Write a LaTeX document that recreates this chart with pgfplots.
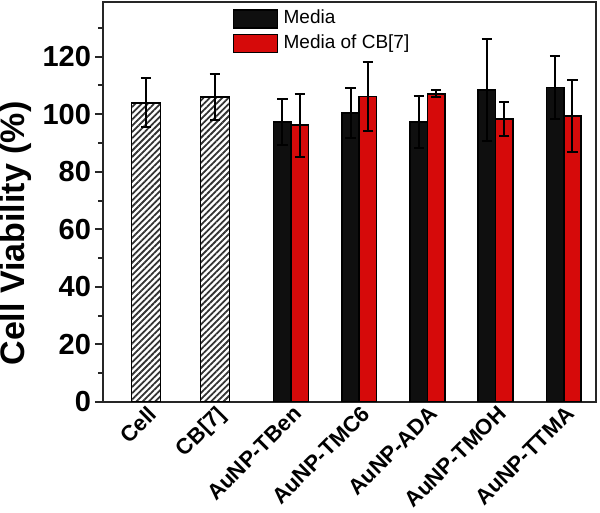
\documentclass[border=0pt]{standalone}
\usepackage{fontspec}
\setmainfont{Liberation Sans}
\usepackage{pgfplots}
\pgfplotsset{compat=1.18}
\usetikzlibrary{patterns.meta,calc}
\definecolor{myred}{RGB}{214,10,10}
\definecolor{myblack}{RGB}{15,15,15}
\begin{document}
\begin{tikzpicture}
\begin{axis}[
  scale only axis,
  width=246.5pt, height=200pt,
  xmin=-0.63, xmax=6.6,
  ymin=0, ymax=139,
  axis line style={line width=1pt, black!85},
  xtick={0,1,2.1275,3.1275,4.1275,5.1275,6.1275},
  xticklabels={Cell,CB[7],AuNP-TBen,AuNP-TMC6,AuNP-ADA,AuNP-TMOH,AuNP-TTMA},
  x tick style={draw=none},
  xticklabel style={rotate=45, anchor=north east, inner sep=0pt, xshift=2.4pt, yshift=1.8pt,
    font=\fontsize{11}{11}\selectfont\bfseries},
  ytick={0,20,...,120},
  minor ytick={10,30,...,130},
  ytick pos=left,
  tick align=outside,
  major tick length=4pt,
  minor tick length=2.5pt,
  y tick style={line width=1pt, black!85},
  yticklabel style={font=\fontsize{14.5}{14.5}\selectfont\bfseries, xshift=1.5pt},
  /pgf/number format/assume math mode=true,
  ylabel={Cell Viability (\%)},
  every axis y label/.style={at={(axis description cs:0,0.421)}, rotate=90, anchor=center, yshift=43.5pt,
    font=\fontsize{17}{17}\selectfont\bfseries},
  legend style={at={(axis description cs:0.262,0.983)}, anchor=north west, draw=none, fill=none,
    inner sep=0pt, row sep=2.5pt, font=\fontsize{9.5}{11}\selectfont,
    nodes={inner xsep=2.75pt, inner ysep=0pt, text height=6.8pt, text depth=2.2pt},
    /tikz/every even column/.append style={column sep=1.5pt}},
  legend cell align=left,
  legend image code/.code={\draw[#1, draw=black, line width=0.8pt] (0pt,-4.5pt) rectangle (22pt,4.5pt);},
]
\coordinate (bl) at (rel axis cs:0,0);
\coordinate (tr) at (rel axis cs:1,1);
% hatched control bars
\addplot[ybar, bar width=0.425, bar shift=0pt, draw=black, line width=0.8pt,
  pattern={Lines[angle=45,distance=2.2pt,line width=0.9pt]}, pattern color=black!80,
  forget plot,
  error bars/.cd, y dir=both, y explicit,
  error bar style={line width=1pt, black},
  error mark options={rotate=90, mark size=2.6pt, line width=1pt, black}]
  coordinates {(0,104) +- (0,8.5) (1.01,106) +- (0,8)};
% Media (black)
\addplot[ybar, bar width=0.255, bar shift=0pt, draw=black, line width=0.8pt, fill=myblack,
  error bars/.cd, y dir=both, y explicit,
  error bar style={line width=1pt, black},
  error mark options={rotate=90, mark size=2.6pt, line width=1pt, black}]
  coordinates {(2,97.2) +- (0,8) (3,100.4) +- (0,8.8) (4,97.3) +- (0,8.9) (5,108.4) +- (0,17.7) (6,109.3) +- (0,10.8)};
\addlegendentry{Media}
% Media of CB[7] (red)
\addplot[ybar, bar width=0.255, bar shift=0pt, draw=black, line width=0.8pt, fill=myred,
  error bars/.cd, y dir=both, y explicit,
  error bar style={line width=1pt, black},
  error mark options={rotate=90, mark size=2.6pt, line width=1pt, black}]
  coordinates {(2.255,96.2) +- (0,10.9) (3.255,106.2) +- (0,12.1) (4.255,107.1) +- (0,1.2) (5.255,98.3) +- (0,5.9) (6.255,99.3) +- (0,12.6)};
\addlegendentry{Media of CB[7]}
\end{axis}
\pgfresetboundingbox
\path[use as bounding box] ($(bl)+(-51.5pt,-55.5pt)$) rectangle ($(tr)+(2pt,1pt)$);
\end{tikzpicture}
\end{document}
